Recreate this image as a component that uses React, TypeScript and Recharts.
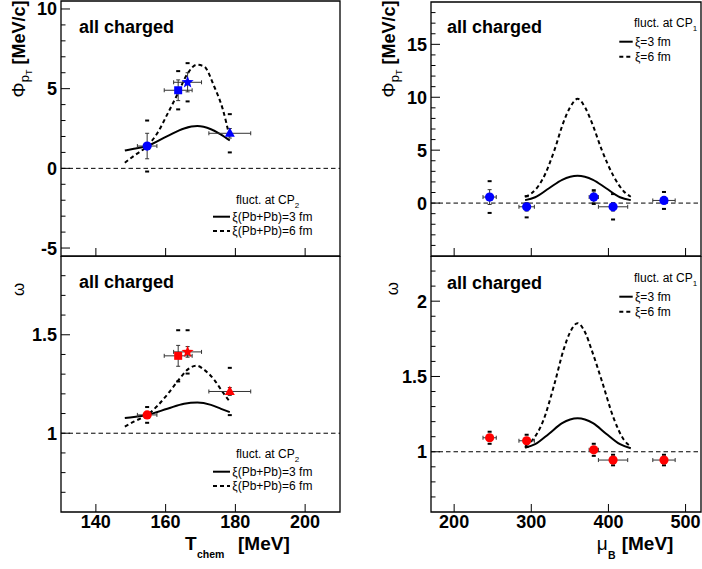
import React from 'react';
import {
  ComposedChart,
  Line,
  Scatter,
  ErrorBar,
  XAxis,
  YAxis,
  ReferenceLine,
  ReferenceArea,
  Legend,
} from 'recharts';

const FONT = '"Liberation Sans", Arial, Helvetica, sans-serif';

// ---- data vs T_chem (left column) ----
const tChem = [154.7, 163.6, 166.3, 178.4];
const tChemErr = [2.8, 4, 4, 6];
const tChemSymbols = ['circle', 'square', 'star', 'triangle'];

const phiVsT = [1.4, 4.9, 5.4, 2.2];
const phiVsTStat = [0.8, 0.65, 0.6, 0.3];
const phiVsTSys = [1.6, 1.2, 1.2, 1.2];

const omegaVsT = [1.093, 1.393, 1.413, 1.212];
const omegaVsTStat = [0.015, 0.053, 0.027, 0.02];
const omegaVsTSys = [0.04, 0.13, 0.11, 0.12];

// model, fluct. at CP2
const tCurve3 = [148.3, 150.9, 154.7, 160.5, 165.3, 169.1, 173, 175.9, 178.4];
const phiT3fm = [1.12, 1.23, 1.4, 2.02, 2.5, 2.65, 2.45, 2.12, 1.75];
const omegaT3fm = [1.077, 1.082, 1.093, 1.124, 1.15, 1.156, 1.144, 1.124, 1.107];
const tCurve6 = [148.3, 151, 154.7, 157.6, 160.5, 163.4, 166.3, 168.9, 171, 173.9, 176.4, 178.4];
const phiT6fm = [0.35, 0.8, 1.4, 2.2, 3.4, 4.65, 5.95, 6.5, 6.4, 5.15, 3.7, 1.9];
const omegaT6fm = [1.034, 1.06, 1.093, 1.138, 1.197, 1.263, 1.323, 1.343, 1.323, 1.272, 1.208, 1.16];

// ---- data vs mu_B (right column) ----
const muB = [246, 294, 381, 406, 472];
const muBErr = [8.6, 10, 6, 19, 14.5];

const phiVsMu = [0.57, -0.35, 0.57, -0.35, 0.25];
const phiVsMuStat = [0.7, 0.4, 0.5, 0.4, 0.3];
const phiVsMuSys = [1.5, 1.0, 0.65, 1.2, 0.8];

const omegaVsMu = [1.093, 1.073, 1.013, 0.945, 0.945];
const omegaVsMuStat = [0.02, 0.02, 0.02, 0.02, 0.02];
const omegaVsMuSys = [0.04, 0.04, 0.04, 0.035, 0.035];

// model, fluct. at CP1
const muCurve3 = [292, 305, 323, 340, 360, 380, 397, 415, 429];
const phiMu3fm = [0.28, 0.55, 1.4, 2.2, 2.58, 2.2, 1.4, 0.55, 0.28];
const omegaMu3fm = [1.027, 1.05, 1.12, 1.19, 1.222, 1.19, 1.12, 1.05, 1.023];
const muCurve6 = [292, 300, 315, 330, 342, 350, 360, 370, 378, 391.5, 407, 420, 429];
const phiMu6fm = [0.6, 0.9, 2.3, 5, 7.7, 9.0, 9.85, 9.0, 7.7, 5, 2.5, 1.1, 0.6];
const omegaMu6fm = [1.04, 1.07, 1.2, 1.45, 1.68, 1.79, 1.854, 1.79, 1.68, 1.47, 1.22, 1.08, 1.035];

// ---- axis ticks ----
const tTicks = [140, 160, 180, 200];
const muTicks = [200, 300, 400, 500];
const phiTTicks = [-5, -4, -3, -2, -1, 0, 1, 2, 3, 4, 5, 6, 7, 8, 9, 10];
const phiTMajor = [-5, 0, 5, 10];
const phiMuTicks = [-4, -3, -2, -1, 0, 1, 2, 3, 4, 5, 6, 7, 8, 9, 10, 11, 12, 13, 14, 15, 16, 17, 18];
const phiMuMajor = [0, 5, 10, 15];
const omegaTTicks = [0.7, 0.8, 0.9, 1, 1.1, 1.2, 1.3, 1.4, 1.5, 1.6, 1.7, 1.8];
const omegaTMajor = [1, 1.5];
const omegaMuTicks = [0.7, 0.8, 0.9, 1, 1.1, 1.2, 1.3, 1.4, 1.5, 1.6, 1.7, 1.8, 1.9, 2, 2.1, 2.2];
const omegaMuMajor = [1, 1.5, 2];

const zip = (xs: number[], ys: number[]) => xs.map((x, i) => ({ x, y: ys[i] }));
const pts = (xs: number[], ex: number[], ys: number[], ey: number[]) =>
  xs.map((x, i) => ({ x, y: ys[i], ex: ex[i], ey: ey[i], i }));
const sysMarks = (xs: number[], ys: number[], sys: number[]) =>
  xs.flatMap((x, i) => [
    { x, y: ys[i] + sys[i] },
    { x, y: ys[i] - sys[i] },
  ]);

function Marker({ cx, cy, kind, color }: any) {
  if (kind === 'square')
    return <rect x={cx - 4} y={cy - 4} width={8} height={8} fill={color} />;
  if (kind === 'triangle')
    return (
      <polygon
        points={`${cx},${cy - 5.8} ${cx - 5},${cy + 3.4} ${cx + 5},${cy + 3.4}`}
        fill={color}
      />
    );
  if (kind === 'star') {
    const p: string[] = [];
    for (let k = 0; k < 10; k++) {
      const r = k % 2 === 0 ? 6.4 : 2.7;
      const a = -Math.PI / 2 + (k * Math.PI) / 5;
      p.push(`${cx + r * Math.cos(a)},${cy + r * Math.sin(a)}`);
    }
    return <polygon points={p.join(' ')} fill={color} />;
  }
  return <circle cx={cx} cy={cy} r={4.6} fill={color} />;
}

const yTick = (majors: number[]) => (p: any) => {
  const v = p.payload.value;
  const major = majors.some((m) => Math.abs(m - v) < 1e-9);
  return (
    <g>
      <line x1={p.x} y1={p.y} x2={p.x + (major ? 9 : 4.5)} y2={p.y} stroke="#000" strokeWidth={1} />
      {major && (
        <text x={p.x - 4} y={p.y + 6.5} textAnchor="end" fontFamily={FONT} fontWeight="bold" fontSize={18} fill="#000">
          {String(v)}
        </text>
      )}
    </g>
  );
};

const xTick = (labels: boolean) => (p: any) => (
  <g>
    <line x1={p.x} y1={p.y} x2={p.x} y2={p.y - 8} stroke="#000" strokeWidth={1} />
    {labels && (
      <text x={p.x} y={p.y + 16} textAnchor="middle" fontFamily={FONT} fontWeight="bold" fontSize={18} fill="#000">
        {String(p.payload.value)}
      </text>
    )}
  </g>
);

// rotated y titles
const phiTitle = (dx: number) => (props: any) => {
  const vb = props.viewBox;
  const x = vb.x + dx;
  const y = 0.5;
  return (
    <text x={x} y={y} transform={`rotate(-90, ${x}, ${y})`} textAnchor="end" fontFamily={FONT} fill="#000">
      <tspan fontSize={19}>Φ</tspan>
      <tspan fontSize={13} dy={4}>p</tspan>
      <tspan fontSize={9} dy={3}>T</tspan>
      <tspan fontSize={18} fontWeight="bold" dy={-7}>{' [MeV/c]'}</tspan>
    </text>
  );
};

const omegaTitle = (dx: number, endY: number) => (props: any) => {
  const vb = props.viewBox;
  const x = vb.x + dx;
  const y = vb.y + endY;
  return (
    <text x={x} y={y} transform={`rotate(-90, ${x}, ${y})`} textAnchor="end" fontFamily={FONT} fontSize={17} fill="#000">
      ω
    </text>
  );
};

const tTitle = (props: any) => {
  const vb = props.viewBox;
  return (
    <g fontFamily={FONT} fontWeight="bold" fill="#000">
      <text x={vb.x + 124} y={vb.y + 38} fontSize={19}>T</text>
      <text x={vb.x + 136} y={vb.y + 46} fontSize={10.5}>chem</text>
      <text x={vb.x + 177} y={vb.y + 38} fontSize={19}>[MeV]</text>
    </g>
  );
};

const muTitle = (props: any) => {
  const vb = props.viewBox;
  return (
    <g fontFamily={FONT} fill="#000">
      <text x={vb.x + 165.7} y={vb.y + 38} fontSize={19}>μ</text>
      <text x={vb.x + 177} y={vb.y + 47} fontSize={10.5} fontWeight="bold">B</text>
      <text x={vb.x + 190.7} y={vb.y + 38} fontSize={19} fontWeight="bold">[MeV]</text>
    </g>
  );
};

const tag = (dx: number, dy: number) => (props: any) => {
  const vb = props.viewBox;
  return (
    <text x={vb.x + dx} y={vb.y + dy} fontFamily={FONT} fontWeight="bold" fontSize={18} fill="#000">
      all charged
    </text>
  );
};

function CpLegend({ cp, labels, titleX, titleY, x1, x2, textX, rowY }: any) {
  return (
    <svg width={140} height={60} style={{ display: 'block', overflow: 'visible' }}>
      <text x={titleX} y={titleY} fontFamily={FONT} fontSize={12} fill="#000">
        fluct. at CP<tspan fontSize={8} dy={4}>{cp}</tspan>
      </text>
      {labels.map((lab: string, k: number) => (
        <g key={lab}>
          <line
            x1={x1}
            x2={x2}
            y1={rowY[k]}
            y2={rowY[k]}
            stroke="#000"
            strokeWidth={2}
            strokeDasharray={k === 1 ? '4 3' : undefined}
          />
          <text x={textX} y={rowY[k] + 4} fontFamily={FONT} fontSize={12} fill="#000">
            {lab}
          </text>
        </g>
      ))}
    </svg>
  );
}

function Panel(p: any) {
  return (
    <div style={{ position: 'absolute', left: p.left, top: p.top }}>
      <ComposedChart width={p.width} height={p.height} margin={p.margin}>
        <XAxis
          type="number"
          dataKey="x"
          domain={p.xDomain}
          ticks={p.xTicks}
          interval={0}
          allowDataOverflow
          axisLine={false}
          tickLine={false}
          tickSize={0}
          tickMargin={0}
          height={p.xAxisHeight}
          tick={xTick(p.xLabels)}
          label={p.xTitle}
        />
        <YAxis
          type="number"
          dataKey="y"
          domain={p.yDomain}
          ticks={p.yTicks}
          interval={0}
          allowDataOverflow
          axisLine={false}
          tickLine={false}
          tickSize={0}
          tickMargin={0}
          width={p.yAxisWidth}
          tick={yTick(p.yMajor)}
          label={p.yTitle}
        />
        <ReferenceArea
          x1={p.xDomain[0]}
          x2={p.xDomain[1]}
          y1={p.yDomain[0]}
          y2={p.yDomain[1]}
          fill="none"
          fillOpacity={0}
          stroke="#000"
          strokeWidth={1.3}
          label={p.tag}
        />
        <ReferenceLine y={p.base} stroke="#000" strokeWidth={1} strokeDasharray="4.5 3" />
        <Line
          data={p.solid}
          dataKey="y"
          type="monotone"
          stroke="#000"
          strokeWidth={2}
          dot={false}
          activeDot={false}
          legendType="none"
          isAnimationActive={false}
        />
        <Line
          data={p.dashed}
          dataKey="y"
          type="monotone"
          stroke="#000"
          strokeWidth={2}
          strokeDasharray="4 3"
          dot={false}
          activeDot={false}
          legendType="none"
          isAnimationActive={false}
        />
        <Scatter
          data={p.sys}
          legendType="none"
          isAnimationActive={false}
          shape={(s: any) => <rect x={s.cx - 2} y={s.cy - 1} width={4} height={2} fill="#000" />}
        />
        <Scatter
          data={p.points}
          legendType="none"
          isAnimationActive={false}
          shape={(s: any) => (
            <Marker
              cx={s.cx}
              cy={s.cy}
              color={p.color}
              kind={p.symbols ? p.symbols[s.payload.i] : 'circle'}
            />
          )}
        >
          <ErrorBar dataKey="ex" direction="x" width={2} stroke="#333" strokeWidth={1} isAnimationActive={false} />
          <ErrorBar dataKey="ey" direction="y" width={2} stroke="#333" strokeWidth={1} isAnimationActive={false} />
        </Scatter>
        <Legend
          layout="horizontal"
          verticalAlign="middle"
          align="center"
          wrapperStyle={{ left: p.legend.left, top: p.legend.top, width: 140, height: 60 }}
          content={() => <CpLegend {...p.legend} />}
        />
      </ComposedChart>
    </div>
  );
}

export default function App() {
  const tLabels = ['ξ(Pb+Pb)=3 fm', 'ξ(Pb+Pb)=6 fm'];
  const muLabels = ['ξ=3 fm', 'ξ=6 fm'];
  return (
    <div style={{ position: 'absolute', left: 0, top: 0, width: 702, height: 569, background: '#fff' }}>
      <Panel
        left={0}
        top={0}
        width={351}
        height={264}
        margin={{ top: 1, right: 11, bottom: 7, left: 0 }}
        yAxisWidth={61}
        xAxisHeight={1}
        xDomain={[130, 210]}
        yDomain={[-5.5, 10.5]}
        xTicks={tTicks}
        yTicks={phiTTicks}
        yMajor={phiTMajor}
        xLabels={false}
        points={pts(tChem, tChemErr, phiVsT, phiVsTStat)}
        sys={sysMarks(tChem, phiVsT, phiVsTSys)}
        symbols={tChemSymbols}
        color="#0000ff"
        solid={zip(tCurve3, phiT3fm)}
        dashed={zip(tCurve6, phiT6fm)}
        base={0}
        yTitle={phiTitle(25)}
        tag={tag(18, 31.7)}
        legend={{ cp: '2', labels: tLabels, left: 200, top: 185, titleX: 36, titleY: 19, x1: 13, x2: 30, textX: 32.3, rowY: [31.7, 46] }}
      />
      <Panel
        left={0}
        top={256}
        width={351}
        height={313}
        margin={{ top: 0, right: 11, bottom: 0, left: 0 }}
        yAxisWidth={61}
        xAxisHeight={57}
        xDomain={[130, 210]}
        yDomain={[0.6, 1.9]}
        xTicks={tTicks}
        yTicks={omegaTTicks}
        yMajor={omegaTMajor}
        xLabels={true}
        points={pts(tChem, tChemErr, omegaVsT, omegaVsTStat)}
        sys={sysMarks(tChem, omegaVsT, omegaVsTSys)}
        symbols={tChemSymbols}
        color="#ff0000"
        solid={zip(tCurve3, omegaT3fm)}
        dashed={zip(tCurve6, omegaT6fm)}
        base={1}
        yTitle={omegaTitle(24, 26.7)}
        xTitle={tTitle}
        tag={tag(18, 32.3)}
        legend={{ cp: '2', labels: tLabels, left: 200, top: 183, titleX: 36, titleY: 19.3, x1: 13, x2: 30, textX: 32.3, rowY: [32.7, 47] }}
      />
      <Panel
        left={351}
        top={0}
        width={351}
        height={264}
        margin={{ top: 2, right: 1, bottom: 7, left: 0 }}
        yAxisWidth={80}
        xAxisHeight={1}
        xDomain={[170, 520]}
        yDomain={[-5, 19]}
        xTicks={muTicks}
        yTicks={phiMuTicks}
        yMajor={phiMuMajor}
        xLabels={false}
        points={pts(muB, muBErr, phiVsMu, phiVsMuStat)}
        sys={sysMarks(muB, phiVsMu, phiVsMuSys)}
        color="#0000ff"
        solid={zip(muCurve3, phiMu3fm)}
        dashed={zip(muCurve6, phiMu6fm)}
        base={0}
        yTitle={phiTitle(43.5)}
        tag={tag(16, 31.3)}
        legend={{ cp: '1', labels: muLabels, left: 263, top: 10, titleX: 20, titleY: 17, x1: 5.3, x2: 18.7, textX: 21, rowY: [31.7, 46.7] }}
      />
      <Panel
        left={351}
        top={256}
        width={351}
        height={313}
        margin={{ top: 0, right: 1, bottom: 0, left: 0 }}
        yAxisWidth={80}
        xAxisHeight={57}
        xDomain={[170, 520]}
        yDomain={[0.6, 2.3]}
        xTicks={muTicks}
        yTicks={omegaMuTicks}
        yMajor={omegaMuMajor}
        xLabels={true}
        points={pts(muB, muBErr, omegaVsMu, omegaVsMuStat)}
        sys={sysMarks(muB, omegaVsMu, omegaVsMuSys)}
        color="#ff0000"
        solid={zip(muCurve3, omegaMu3fm)}
        dashed={zip(muCurve6, omegaMu6fm)}
        base={1}
        yTitle={omegaTitle(46.5, 26)}
        xTitle={muTitle}
        tag={tag(16, 33.3)}
        legend={{ cp: '1', labels: muLabels, left: 263, top: 9, titleX: 20, titleY: 17, x1: 5.3, x2: 18.7, textX: 21, rowY: [31.7, 46.7] }}
      />
    </div>
  );
}
